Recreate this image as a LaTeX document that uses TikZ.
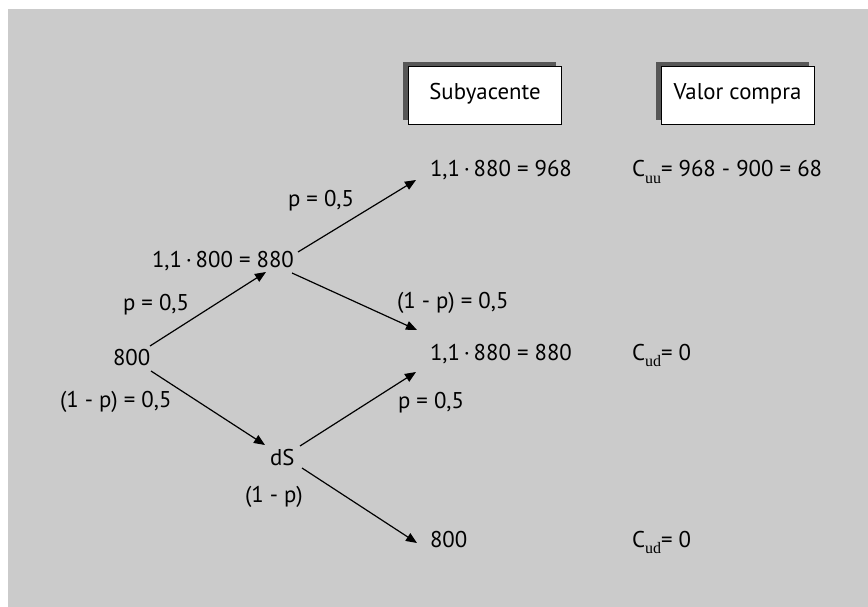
\documentclass[tikz,border=0pt]{standalone}
\usepackage{fontspec}
\setmainfont{PT Sans}
\newfontfamily\subfont{Liberation Serif}
\usetikzlibrary{arrows.meta,shadows}
\definecolor{bg}{HTML}{CBCBCB}
\definecolor{shadowgray}{HTML}{575757}
\newcommand{\sbs}[1]{\raisebox{-6pt}{\fontsize{16}{16}\subfont #1}}
\begin{document}
\begin{tikzpicture}[x=1pt,y=-1pt,
  every node/.style={inner sep=0pt,outer sep=0pt,font=\fontsize{22.8}{26}\selectfont},
  lbl/.style={anchor=base west},
  hbox/.style={draw=black,line width=0.9pt,fill=white,minimum width=153pt,minimum height=58pt,
    general shadow={fill=shadowgray,shadow xshift=-5pt,shadow yshift=4pt}},
  arr/.style={line width=1.2pt,-{Triangle[length=11pt,width=9pt]}}]
\useasboundingbox (0,0) rectangle (868,607);
\fill[bg] (8,9) rectangle (868,607);
% header boxes
\node[hbox] (hsub) at (484.5,95) {};
\node[anchor=base] (tsub) at (485,100) {Subyacente};
\node[hbox] (hval) at (737.5,95) {};
\node[anchor=base] (tval) at (737.5,100) {Valor compra};
% tree nodes
\node[lbl] (n800) at (113,365) {800};
\node[lbl] (n880a) at (152,267) {1,1\,·\,800 = 880};
\node[lbl] (ds) at (270,465) {dS};
\node[lbl] (n968) at (430,177) {1,1\,·\,880 = 968};
\node[lbl] (n880b) at (430,360) {1,1\,·\,880 = 880};
\node[lbl] (nb800) at (430,547) {800};
% value column
\node[lbl] (cuu) at (632,177) {C\sbs{uu}= 968 - 900 = 68};
\node[lbl] (cud1) at (632,360) {C\sbs{ud}= 0};
\node[lbl] (cud2) at (632,547) {C\sbs{ud}= 0};
% probability labels
\node[lbl] (p1) at (123,310) {p = 0,5};
\node[lbl] (q1) at (60,407) {(1 - p) = 0,5};
\node[lbl] (p2) at (288,207) {p = 0,5};
\node[lbl] (q2) at (397,308) {(1 - p) = 0,5};
\node[lbl] (p3) at (398,408) {p = 0,5};
\node[lbl] (q3) at (245,502) {(1 - p)};
% arrows
\draw[arr] ([shift={(37,-19)}]n800.base west) -- ([shift={(114,5)}]n880a.base west);
\draw[arr] ([shift={(38,6)}]n800.base west) -- ([shift={(-5,-20)}]ds.base west);
\draw[arr] ([shift={(146,-15)}]n880a.base west) -- ([shift={(-14,3)}]n968.base west);
\draw[arr] ([shift={(140,6)}]n880a.base west) -- ([shift={(-13,-30)}]n880b.base west);
\draw[arr] ([shift={(30,-19)}]ds.base west) -- ([shift={(-14,12)}]n880b.base west);
\draw[arr] ([shift={(32,3)}]ds.base west) -- ([shift={(-13,-4)}]nb800.base west);
\end{tikzpicture}
\end{document}
